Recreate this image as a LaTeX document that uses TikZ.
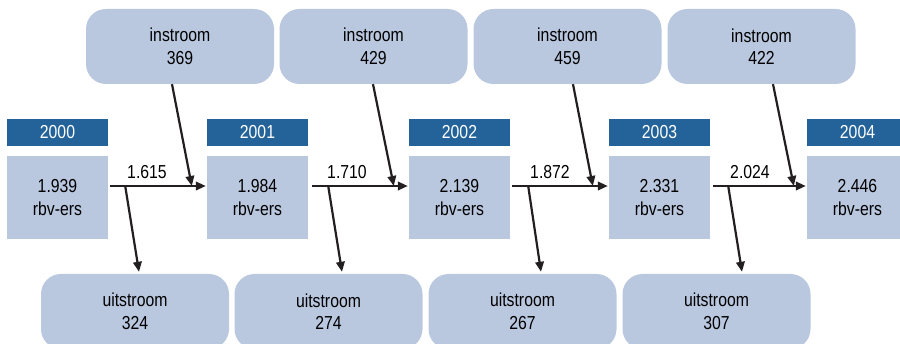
\documentclass[tikz,border=0pt]{standalone}
\usepackage{fontspec}
\setmainfont{Liberation Sans}[FakeStretch=0.84]
\usetikzlibrary{arrows.meta}
\definecolor{boxfill}{RGB}{185,199,223}
\definecolor{headfill}{RGB}{35,99,153}
\definecolor{arr}{RGB}{35,31,32}
\begin{document}
\begin{tikzpicture}[x=1pt,y=-1pt,
  lbl/.style={font=\fontsize{18.8}{22.5}\selectfont, align=center, inner sep=0pt, text=black},
  valbox/.style={lbl, fill=boxfill, minimum width=101pt, minimum height=83pt},
  headbox/.style={lbl, fill=headfill, text=white, minimum width=101pt, minimum height=27pt},
  flowbox/.style={lbl, fill=boxfill, rounded corners=20pt, minimum width=188pt, minimum height=75pt},
  conn/.style={draw=arr, line width=2.2pt, -{Triangle[length=10pt,width=8.5pt]}}
]
\useasboundingbox (0,0) rectangle (900,344);
\clip (0,0) rectangle (900,344);

% year headers
\node[headbox] (h0) at (57.5,132.5) {2000};
\node[headbox] (h1) at (257.5,132.5) {2001};
\node[headbox] (h2) at (459.5,132.5) {2002};
\node[headbox] (h3) at (659.5,132.5) {2003};
\node[headbox] (h4) at (857.5,132.5) {2004};

% value boxes
\node[valbox] (v0) at (57.5,197.5) {1.939\\rbv-ers};
\node[valbox] (v1) at (257.5,197.5) {1.984\\rbv-ers};
\node[valbox] (v2) at (459.5,197.5) {2.139\\rbv-ers};
\node[valbox] (v3) at (659.5,197.5) {2.331\\rbv-ers};
\node[valbox] (v4) at (857.5,197.5) {2.446\\rbv-ers};

% instroom
\node[flowbox] (i1) at (180,46.5) {instroom\\369};
\node[flowbox] (i2) at (373.5,46.5) {instroom\\429};
\node[flowbox] (i3) at (567.5,46.5) {instroom\\459};
\node[flowbox] (i4) at (761.5,46.5) {instroom\\422};

% uitstroom
\node[flowbox] (u1) at (135,311.5) {uitstroom\\324};
\node[flowbox] (u2) at (328.5,311.5) {uitstroom\\274};
\node[flowbox] (u3) at (522.5,311.5) {uitstroom\\267};
\node[flowbox] (u4) at (716.5,311.5) {uitstroom\\307};

% transitions
\node[lbl] (t1) at (147,172) {1.615};
\node[lbl] (t2) at (347,172) {1.710};
\node[lbl] (t3) at (550,172) {1.872};
\node[lbl] (t4) at (750,172) {2.024};

\draw[conn] ([shift={(2,-11.5)}]v0.east) -- ([shift={(-1,-11.5)}]v1.west);
\draw[conn] ([shift={(4,-11.5)}]v1.east) -- ([shift={(-1,-11.5)}]v2.west);
\draw[conn] ([shift={(2,-11.5)}]v2.east) -- ([shift={(-1,-11.5)}]v3.west);
\draw[conn] ([shift={(3,-11.5)}]v3.east) -- ([shift={(-1,-11.5)}]v4.west);

\coordinate (b1) at ([shift={(17,-11.5)}]v0.east);
\coordinate (b2) at ([shift={(20,-11.5)}]v1.east);
\coordinate (b3) at ([shift={(18,-11.5)}]v2.east);
\coordinate (b4) at ([shift={(18,-11.5)}]v3.east);

\draw[conn] (b1) -- ([shift={(4,-2)}]u1.north);
\draw[conn] (b2) -- ([shift={(13.5,-2)}]u2.north);
\draw[conn] (b3) -- ([shift={(18.5,-2)}]u3.north);
\draw[conn] (b4) -- ([shift={(25.5,-2)}]u4.north);

\draw[conn] ([xshift=-8pt]i1.south) -- ([shift={(-15,-11.5)}]v1.west);
\draw[conn] ([xshift=-0.5pt]i2.south) -- ([shift={(-15,-11.5)}]v2.west);
\draw[conn] ([xshift=5.5pt]i3.south) -- ([shift={(-16,-11.5)}]v3.west);
\draw[conn] ([xshift=11.5pt]i4.south) -- ([shift={(-13,-11.5)}]v4.west);
\end{tikzpicture}
\end{document}
